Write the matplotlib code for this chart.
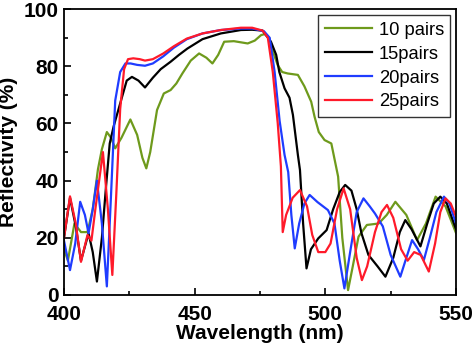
import matplotlib
matplotlib.use("Agg")
import matplotlib.pyplot as plt
from matplotlib.ticker import MultipleLocator

plt.rcParams['font.family'] = ['Liberation Sans', 'DejaVu Sans']

# 10 pairs (olive green)
wl_10 = [400, 401.5, 404, 406.5, 409, 411, 413, 414.5, 416.4, 418, 419.6, 422, 425.4,
         428, 430, 431.5, 433, 435.6, 438.2, 440.8, 443, 445.3, 448.5, 451.7, 454.5,
         456.8, 459, 461.3, 465, 470.3, 473, 475.4, 476.8, 478.5, 480, 481.8, 483.5,
         485.6, 489.5, 492, 494.6, 495.9, 497.5, 499.7, 502.3, 504.9, 506.5, 508.7,
         510.5, 512.7, 515.9, 520.4, 523.5, 526.8, 531, 535.1, 538.5, 542.2, 546, 550]
r_10 = [16, 12, 25, 22, 22, 30, 44, 51, 57, 55, 51.3, 55, 61.4,
        56, 48, 44.3, 50, 64.7, 70.5, 71.7, 74, 77.5, 82, 84.5, 83,
        81, 84, 88.6, 88.8, 88, 89, 90.9, 91.3, 90, 85, 80.4, 78,
        77.5, 77, 73, 67.6, 62.3, 57, 54.2, 53, 41.4, 20, 1.7,
        10, 20.4, 24.5, 25, 28, 32.6, 28, 19.2, 25, 34.4, 31, 21.7]

# 15 pairs (black)
wl_15 = [400, 402.3, 404.5, 406.5, 409.4, 411, 412.6, 414.5, 416, 417.5, 419, 421.5,
         424, 426, 428.5, 431, 434, 437, 440.8, 444, 447.2, 453, 460, 467.7, 472,
         476, 479.2, 481.2, 482.4, 484.4, 486.3, 487.6, 489.5, 490.3, 491.5, 492.8,
         494.5, 497.3, 500.5, 503, 505.5, 507.6, 510, 512, 513.8, 516.5, 520, 523,
         526, 528.5, 530.6, 533, 536.4, 539, 541.5, 544, 546.5, 550]
r_15 = [20, 34, 24, 12, 21.6, 15, 4.7, 20, 37, 53, 59, 67,
        75, 76.3, 75, 72.6, 76, 79, 81.6, 84, 86.2, 89.5, 91.5, 92.7, 92.8,
        92.5, 88.6, 84, 78, 72.3, 69, 63, 49, 43.7, 25, 9.3,
        16, 19.8, 22.7, 30, 36, 38.5, 36.5, 30, 21.7, 14, 10, 6.4,
        13, 22, 26.2, 23, 17, 25, 32, 34.4, 32, 23]

# 20 pairs (blue)
wl_20 = [400, 402.3, 404.3, 406.2, 408, 409.4, 411, 412.6, 414.5, 416.4, 418, 419.6,
         421.5, 423.5, 425.5, 428, 431, 434, 438, 442, 447, 453, 460, 467.7, 472,
         476.5, 478.7, 480.6, 482.5, 484.4, 485.8, 487, 488.3, 490, 492, 494, 497,
         501, 503.5, 505.5, 507.3, 509.5, 512, 514.6, 517, 519, 522, 525, 528.7,
         531, 533.2, 535.5, 537.7, 540, 542.5, 545.4, 547.5, 550]
r_20 = [19, 8.7, 18, 32.6, 28, 21.6, 30, 40, 25, 3, 35, 68,
        78, 81, 81, 80.5, 80.2, 81, 83.5, 86.5, 89.5, 91.5, 92.7, 93.2, 93.2,
        92.3, 90, 78, 61, 49, 43, 28, 16.3, 25, 32, 35, 32.5,
        29.7, 25, 12, 2.3, 15, 29, 33.8, 31, 28.5, 24, 14, 6.4,
        13, 19.2, 16, 12.2, 20, 29, 34.4, 32, 25]

# 25 pairs (red)
wl_25 = [400, 402.3, 404.5, 406.5, 409, 410.5, 412, 414.9, 416.8, 418.5, 420, 421.5,
         423, 424.5, 426.5, 429, 431, 434, 438, 442, 447, 453, 460, 467.7, 472,
         476, 478, 479.9, 481.8, 483, 483.7, 485, 487.5, 490.3, 493, 495, 497.3, 500,
         502, 504.5, 507, 509.5, 512, 514, 516, 519, 521.5, 523.6, 526, 529, 531.5,
         534, 536.5, 539.6, 542, 544, 546, 548, 550]
r_25 = [20, 34.5, 25, 11.6, 21, 19, 30, 50, 30, 7, 35, 65,
        79, 82.5, 82.8, 82.5, 82, 82.5, 84.5, 87, 89.7, 91.5, 92.7, 93.5, 93.5,
        92.5, 90, 78, 60, 45, 22, 28, 34, 36.7, 31, 21, 15, 15,
        18, 30, 37.3, 30, 13, 5.2, 10, 22, 29, 31.5, 27, 16, 12,
        15, 14, 8.2, 18, 29, 33.8, 32, 27.4]

series = [(wl_10, r_10, '#6e9a1c', '10 pairs'),
          (wl_15, r_15, '#000000', '15pairs'),
          (wl_20, r_20, '#1f3cff', '20pairs'),
          (wl_25, r_25, '#ff1a2a', '25pairs')]

fig = plt.figure(figsize=(4.74, 3.52), dpi=100)
ax = fig.add_axes([0.135, 0.162, 0.827, 0.812])

for wl, r, col, lab in series:
    ax.plot(wl, r, color=col, lw=1.6, label=lab, solid_joinstyle='round')

ax.set_xlim(400, 550)
ax.set_ylim(0, 100)
ax.xaxis.set_major_locator(MultipleLocator(50))
ax.xaxis.set_minor_locator(MultipleLocator(25))
ax.yaxis.set_major_locator(MultipleLocator(20))
ax.yaxis.set_minor_locator(MultipleLocator(10))
ax.tick_params(which='both', direction='in', width=1.2, labelsize=15)
ax.tick_params(axis='x', pad=7.5)
ax.tick_params(axis='y', pad=4)
ax.tick_params(which='major', length=5)
ax.tick_params(which='minor', length=3)
for lab in ax.get_xticklabels() + ax.get_yticklabels():
    lab.set_fontweight('bold')
for sp in ax.spines.values():
    sp.set_linewidth(1.3)

ax.set_xlabel('Wavelength (nm)', fontsize=15, fontweight='bold', labelpad=0)
ax.set_ylabel('Reflectivity (%)', fontsize=15, fontweight='bold', labelpad=4)

leg = ax.legend(loc='upper right', bbox_to_anchor=(0.9855, 0.979), borderaxespad=0,
                fontsize=13.2, fancybox=False, framealpha=1, edgecolor='#333333',
                handlelength=2.6, handletextpad=0.35, labelspacing=0.38,
                borderpad=0.35)
leg.get_frame().set_linewidth(1.0)

fig.savefig('out.png', dpi=100)
